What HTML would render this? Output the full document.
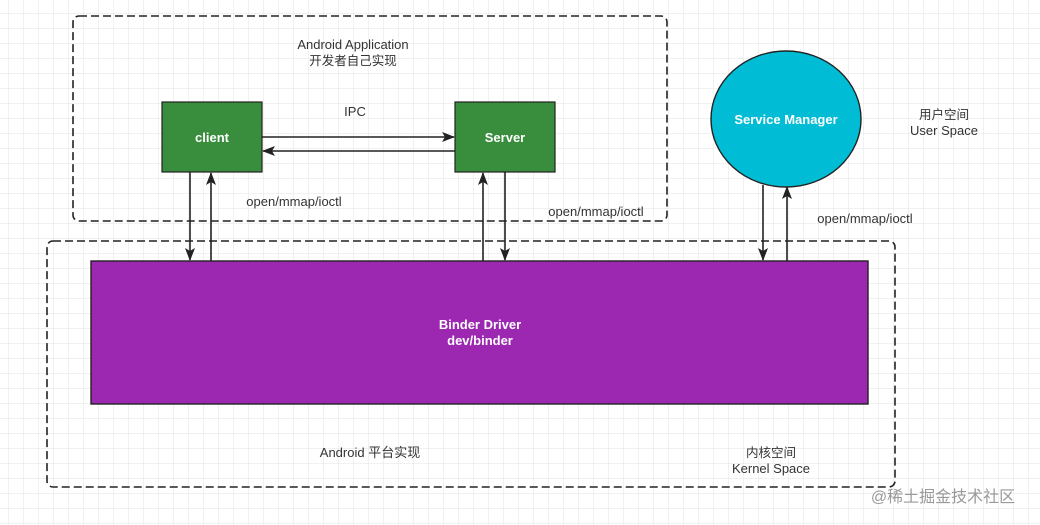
<!DOCTYPE html>
<html><head><meta charset="utf-8"><style>
html,body{margin:0;padding:0;background:#fff;}
svg{display:block;}
text{font-family:"Liberation Sans","Noto Sans CJK SC",sans-serif;}
</style></head><body>
<svg width="1040" height="525" xmlns="http://www.w3.org/2000/svg">
<defs>
<pattern id="g" x="8" y="13" width="15" height="15" patternUnits="userSpaceOnUse">
<path d="M0 0H15M0 0V15" stroke="#e3e3e3" stroke-width="1" fill="none"/>
</pattern>
<marker id="a" markerWidth="14" markerHeight="12" refX="12" refY="6" orient="auto" markerUnits="userSpaceOnUse">
<path d="M0 1L13 6L0 11L3 6Z" fill="#222"/>
</marker>
</defs>
<rect width="1040" height="525" fill="url(#g)"/>
<rect x="73" y="16" width="594" height="205" rx="6" fill="none" stroke="#222" stroke-width="1.6" stroke-dasharray="8 4"/>
<rect x="47" y="241" width="848" height="246" rx="6" fill="none" stroke="#222" stroke-width="1.6" stroke-dasharray="8 4"/>
<text x="353" y="49" font-size="13" text-anchor="middle" fill="#333">Android Application</text>
<text x="353" y="65" font-size="12.5" text-anchor="middle" fill="#333">开发者自己实现</text>
<rect x="162" y="102" width="100" height="70" fill="#388e3c" stroke="#222" stroke-width="1.2"/>
<text x="212" y="142" font-size="13" font-weight="bold" text-anchor="middle" fill="#fff">client</text>
<rect x="455" y="102" width="100" height="70" fill="#388e3c" stroke="#222" stroke-width="1.2"/>
<text x="505" y="142" font-size="13" font-weight="bold" text-anchor="middle" fill="#fff">Server</text>
<text x="355" y="116" font-size="13" text-anchor="middle" fill="#333">IPC</text>
<line x1="262" y1="137" x2="454" y2="137" stroke="#222" stroke-width="1.6" marker-end="url(#a)"/>
<line x1="455" y1="151" x2="263" y2="151" stroke="#222" stroke-width="1.6" marker-end="url(#a)"/>
<ellipse cx="786" cy="119" rx="75" ry="68" fill="#00bcd4" stroke="#222" stroke-width="1.4"/>
<text x="786" y="124" font-size="13" font-weight="bold" text-anchor="middle" fill="#fff">Service Manager</text>
<text x="944" y="119" font-size="12.5" text-anchor="middle" fill="#333">用户空间</text>
<text x="944" y="135" font-size="13" text-anchor="middle" fill="#333">User Space</text>
<rect x="91" y="261" width="777" height="143" fill="#9c27b0" stroke="#222" stroke-width="1.4"/>
<text x="480" y="329" font-size="13" font-weight="bold" text-anchor="middle" fill="#fff">Binder Driver</text>
<text x="480" y="345" font-size="13" font-weight="bold" text-anchor="middle" fill="#fff">dev/binder</text>
<line x1="190" y1="172" x2="190" y2="260" stroke="#222" stroke-width="1.6" marker-end="url(#a)"/>
<line x1="211" y1="261" x2="211" y2="173" stroke="#222" stroke-width="1.6" marker-end="url(#a)"/>
<line x1="483" y1="261" x2="483" y2="173" stroke="#222" stroke-width="1.6" marker-end="url(#a)"/>
<line x1="505" y1="172" x2="505" y2="260" stroke="#222" stroke-width="1.6" marker-end="url(#a)"/>
<line x1="763" y1="185" x2="763" y2="260" stroke="#222" stroke-width="1.6" marker-end="url(#a)"/>
<line x1="787" y1="261" x2="787" y2="187" stroke="#222" stroke-width="1.6" marker-end="url(#a)"/>
<text x="294" y="206" font-size="13" text-anchor="middle" fill="#333">open/mmap/ioctl</text>
<text x="596" y="216" font-size="13" text-anchor="middle" fill="#333">open/mmap/ioctl</text>
<text x="865" y="223" font-size="13" text-anchor="middle" fill="#333">open/mmap/ioctl</text>
<text x="370" y="457" font-size="13" text-anchor="middle" fill="#333">Android  平台实现</text>
<text x="771" y="457" font-size="12.5" text-anchor="middle" fill="#333">内核空间</text>
<text x="771" y="473" font-size="13" text-anchor="middle" fill="#333">Kernel Space</text>
<text x="943" y="502" font-size="16" text-anchor="middle" fill="#999">@稀土掘金技术社区</text>
</svg>
</body></html>
